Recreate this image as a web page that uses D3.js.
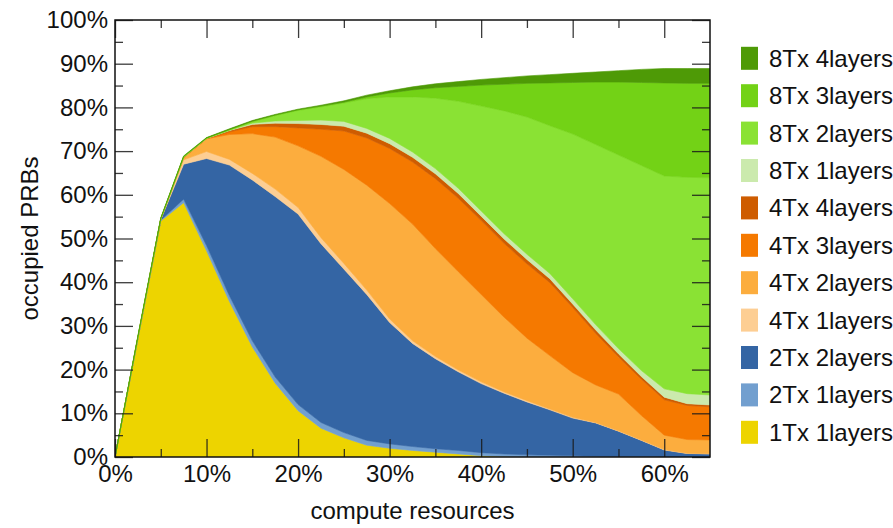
<!DOCTYPE html>
<html>
<head>
<meta charset="utf-8">
<script src="https://cdn.jsdelivr.net/npm/d3@7"></script>
<style>
  html, body { margin: 0; padding: 0; background: #fff; }
  svg text { font-family: "Liberation Sans", Arial, Helvetica, sans-serif; fill: #111; }
</style>
</head>
<body>
<svg id="chart" width="893" height="528"></svg>
<script>
// compute resources (%) at each sample
const computeShare = [0, 2.5, 5, 7.5, 10, 12.5, 15, 17.5, 20, 22.5, 25, 27.5, 30, 32.5, 35, 37.5, 40, 42.5, 45, 47.5, 50, 52.5, 55, 57.5, 60, 62.5, 65];

// occupied PRBs (%) per transmission mode, stacked bottom to top
const tx1Layers1 = [0, 27.0, 54.0, 58.2, 47.2, 35.6, 25.2, 16.9, 10.6, 6.6, 4.4, 2.7, 2.0, 1.5, 1.1, 0.7, 0.3, 0.1, 0, 0, 0, 0, 0, 0, 0, 0, 0];
const tx2Layers1 = [0, 0.1, 0.2, 0.8, 1.2, 1.3, 1.4, 1.4, 1.4, 1.3, 1.2, 1.1, 1.0, 0.9, 0.8, 0.8, 0.7, 0.6, 0.5, 0.4, 0.3, 0.2, 0.1, 0.1, 0, 0, 0];
const tx2Layers2 = [0, 0.1, 0.15, 8.0, 19.9, 29.9, 36.8, 41.3, 43.6, 40.9, 37.4, 33.4, 27.8, 23.6, 20.6, 18.0, 15.8, 13.9, 12.1, 10.4, 8.6, 7.6, 5.8, 3.7, 1.6, 0.8, 0.7];
const tx4Layers1 = [0, 0.05, 0.05, 1.0, 1.6, 1.3, 1.5, 1.7, 1.5, 1.4, 1.3, 1.0, 0.8, 0.6, 0.5, 0.4, 0.4, 0.3, 0.3, 0.2, 0.2, 0.1, 0.1, 0.1, 0.1, 0.05, 0.05];
const tx4Layers2 = [0, 0.05, 0.05, 0.5, 2.9, 5.7, 9.1, 11.9, 14.1, 18.6, 21.5, 24.0, 26.4, 26.7, 24.7, 22.5, 20.0, 17.1, 14.3, 12.2, 10.2, 8.6, 8.4, 5.6, 3.3, 3.15, 3.15];
const tx4Layers3 = [0, 0, 0, 0.05, 0.05, 0.6, 1.6, 2.4, 4.1, 6.2, 8.8, 10.8, 12.6, 14.2, 16.0, 16.8, 16.9, 16.9, 17.0, 16.7, 14.9, 11.8, 8.5, 8.3, 8.1, 7.8, 7.6];
const tx4Layers4 = [0, 0, 0, 0.05, 0.05, 0.3, 0.5, 0.8, 1.0, 1.1, 1.1, 1.1, 1.1, 1.1, 1.1, 1.1, 1.0, 1.0, 1.0, 0.9, 0.8, 0.8, 0.7, 0.6, 0.6, 0.4, 0.4];
const tx8Layers1 = [0, 0, 0, 0.02, 0.02, 0.05, 0.3, 0.5, 0.7, 1.0, 1.1, 1.1, 1.2, 1.2, 1.2, 1.2, 1.2, 1.2, 1.2, 1.2, 1.2, 1.2, 1.2, 1.4, 1.9, 2.3, 2.3];
const tx8Layers2 = [0, 0.05, 0, 0.03, 0.03, 0.1, 0.3, 1.2, 2.3, 3.0, 4.2, 6.8, 9.5, 12.6, 16.1, 19.9, 24.0, 28.1, 31.4, 33.8, 37.7, 41.2, 44.3, 46.9, 48.7, 49.5, 49.7];
const tx8Layers3 = [0, 0.2, 0.15, 0.15, 0.05, 0.1, 0.15, 0.15, 0.15, 0.2, 0.2, 0.4, 0.9, 1.6, 2.4, 3.4, 4.8, 6.1, 7.7, 9.8, 11.8, 14.3, 16.7, 19.0, 21.3, 21.5, 21.6];
const tx8Layers4 = [0, 0.15, 0.1, 0.1, 0.1, 0.15, 0.15, 0.15, 0.15, 0.2, 0.3, 0.4, 0.5, 0.7, 0.9, 1.1, 1.3, 1.5, 1.7, 1.9, 2.1, 2.3, 2.6, 3.0, 3.3, 3.4, 3.4];

const seriesNames = ["1Tx 1layers", "2Tx 1layers", "2Tx 2layers", "4Tx 1layers", "4Tx 2layers", "4Tx 3layers", "4Tx 4layers", "8Tx 1layers", "8Tx 2layers", "8Tx 3layers", "8Tx 4layers"];
const seriesValues = [tx1Layers1, tx2Layers1, tx2Layers2, tx4Layers1, tx4Layers2, tx4Layers3, tx4Layers4, tx8Layers1, tx8Layers2, tx8Layers3, tx8Layers4];
const seriesColors = ["#edd400", "#729fcf", "#3465a4", "#fdce93", "#fcad3e", "#f57900", "#ce5c00", "#cbeaad", "#8ae234", "#73d216", "#4e9a06"];

const xTickLabels = [0, 10, 20, 30, 40, 50, 60];
const yTickLabels = [0, 10, 20, 30, 40, 50, 60, 70, 80, 90, 100];

// layout
const plot = { left: 115, right: 710, top: 20, bottom: 457 };
const fontSize = 24;

const svg = d3.select("#chart");

const x = d3.scaleLinear().domain([0, 65]).range([plot.left, plot.right]);
const y = d3.scaleLinear().domain([0, 100]).range([plot.bottom, plot.top]);

// table for the stack layout
const table = computeShare.map((c, i) => {
  const row = { share: c };
  seriesNames.forEach((n, k) => { row[n] = seriesValues[k][i]; });
  return row;
});

const stacked = d3.stack().keys(seriesNames)(table);
const color = d3.scaleOrdinal().domain(seriesNames).range(seriesColors);

const area = d3.area()
  .x(d => x(d.data.share))
  .y0(d => y(d[0]))
  .y1(d => y(d[1]));

const clipId = "plot-clip";
svg.append("clipPath").attr("id", clipId)
  .append("rect")
  .attr("x", plot.left).attr("y", plot.top)
  .attr("width", plot.right - plot.left).attr("height", plot.bottom - plot.top);

svg.append("g").attr("clip-path", `url(#${clipId})`)
  .selectAll("path")
  .data(stacked)
  .join("path")
  .attr("d", area)
  .attr("fill", d => color(d.key))
  .attr("stroke", d => color(d.key))
  .attr("stroke-width", 0.6)
  .attr("stroke-linejoin", "round");

// ticks point inward on all four sides, majors every 10%, minors at 5%
const major = 18, minor = 8;
const xMinor = d3.range(5, 65, 10);
const yMinor = d3.range(5, 100, 10);

function styleAxis(g) {
  g.select(".domain").remove();
  g.selectAll(".tick line").attr("stroke", "#1a1a1a").attr("stroke-width", 1.3).attr("stroke-opacity", 0.85);
  g.selectAll(".tick text").style("font-size", fontSize + "px").attr("fill", "#111");
}

svg.append("g").attr("transform", `translate(${plot.left},0)`)
  .call(d3.axisLeft(y).tickValues(yTickLabels).tickSize(-major).tickPadding(7).tickFormat(d => d + "%"))
  .call(styleAxis);
svg.append("g").attr("transform", `translate(${plot.left},0)`)
  .call(d3.axisLeft(y).tickValues(yMinor).tickSize(-minor).tickFormat(""))
  .call(styleAxis);
svg.append("g").attr("transform", `translate(${plot.right},0)`)
  .call(d3.axisRight(y).tickValues(yTickLabels).tickSize(-major).tickFormat(""))
  .call(styleAxis);
svg.append("g").attr("transform", `translate(${plot.right},0)`)
  .call(d3.axisRight(y).tickValues(yMinor).tickSize(-minor).tickFormat(""))
  .call(styleAxis);
svg.append("g").attr("transform", `translate(0,${plot.bottom})`)
  .call(d3.axisBottom(x).tickValues(xTickLabels).tickSize(-major).tickPadding(8).tickFormat(d => d + "%"))
  .call(styleAxis);
svg.append("g").attr("transform", `translate(0,${plot.bottom})`)
  .call(d3.axisBottom(x).tickValues(xMinor).tickSize(-minor).tickFormat(""))
  .call(styleAxis);
svg.append("g").attr("transform", `translate(0,${plot.top})`)
  .call(d3.axisTop(x).tickValues(xTickLabels).tickSize(-major).tickFormat(""))
  .call(styleAxis);
svg.append("g").attr("transform", `translate(0,${plot.top})`)
  .call(d3.axisTop(x).tickValues(xMinor).tickSize(-minor).tickFormat(""))
  .call(styleAxis);

// plot border
svg.append("rect")
  .attr("x", plot.left).attr("y", plot.top)
  .attr("width", plot.right - plot.left).attr("height", plot.bottom - plot.top)
  .attr("fill", "none").attr("stroke", "#111").attr("stroke-width", 1.5);

// axis titles
svg.append("text")
  .attr("x", (plot.left + plot.right) / 2).attr("y", 519)
  .attr("text-anchor", "middle")
  .style("font-size", fontSize + "px")
  .text("compute resources");

svg.append("text")
  .attr("transform", `translate(38,${(plot.top + plot.bottom) / 2}) rotate(-90)`)
  .attr("text-anchor", "middle")
  .style("font-size", fontSize + "px")
  .text("occupied PRBs");

// legend, top series first
const legendItems = seriesNames.slice().reverse();
const legend = svg.append("g");
const rowStep = 37.4, firstRow = 58.3;
legendItems.forEach((name, i) => {
  const cy = firstRow + i * rowStep;
  legend.append("rect")
    .attr("x", 741).attr("y", cy - 11.5)
    .attr("width", 17).attr("height", 23)
    .attr("fill", color(name));
  legend.append("text")
    .attr("x", 769).attr("y", cy)
    .attr("dy", "0.35em")
    .style("font-size", fontSize + "px")
    .text(name);
});
</script>
</body>
</html>
